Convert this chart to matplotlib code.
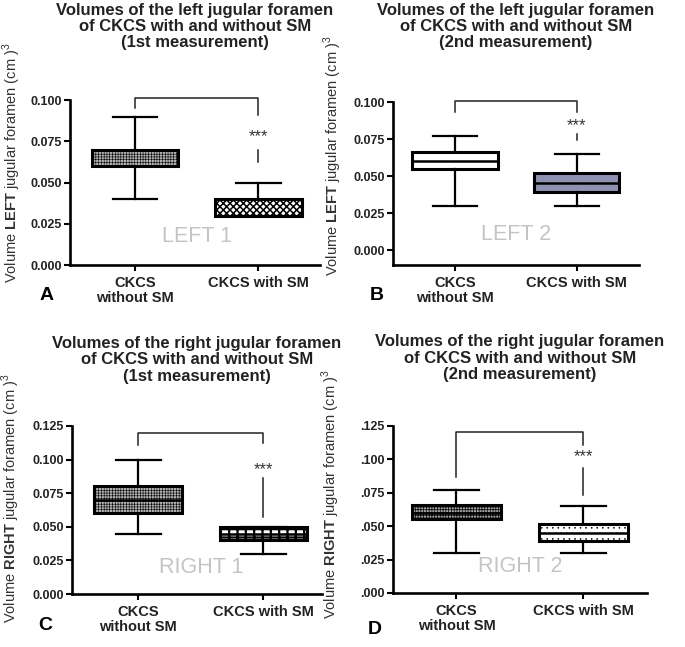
import matplotlib
matplotlib.use("Agg")
import matplotlib.pyplot as plt
from matplotlib.ticker import FuncFormatter

plt.rcParams['font.family'] = ['Liberation Sans', 'DejaVu Sans']
plt.rcParams['mathtext.fontset'] = 'custom'
plt.rcParams['mathtext.rm'] = 'Liberation Sans'
plt.rcParams['mathtext.bf'] = 'Liberation Sans:bold'
plt.rcParams['hatch.linewidth'] = 0.6

# data: (without SM, with SM) per panel
groups = ["CKCS\nwithout SM", "CKCS with SM"]
panels = ["A", "B", "C", "D"]
titles = [
    "Volumes of the left jugular foramen\nof CKCS with and without SM\n(1st measurement)",
    "Volumes of the left jugular foramen\nof CKCS with and without SM\n(2nd measurement)",
    "Volumes of the right jugular foramen\nof CKCS with and without SM\n(1st measurement)",
    "Volumes of the right jugular foramen\nof CKCS with and without SM\n(2nd measurement)",
]
sides = ["LEFT", "LEFT", "RIGHT", "RIGHT"]
tags = ["LEFT 1", "LEFT 2", "RIGHT 1", "RIGHT 2"]

whislo = [[0.040, 0.030], [0.030, 0.030], [0.045, 0.030], [0.030, 0.030]]
q1     = [[0.060, 0.030], [0.055, 0.039], [0.060, 0.040], [0.055, 0.039]]
med    = [[0.060, 0.030], [0.060, 0.045], [0.070, 0.045], [0.060, 0.045]]
q3     = [[0.070, 0.040], [0.066, 0.052], [0.080, 0.050], [0.066, 0.052]]
whishi = [[0.090, 0.050], [0.077, 0.065], [0.100, 0.050], [0.077, 0.065]]

# significance bracket: top, left end, right upper end, stars, lower segment
br_top   = [0.101, 0.1007, 0.120, 0.1208]
br_left  = [0.095, 0.0933, 0.111, 0.087]
br_right = [0.091, 0.0933, 0.112, 0.1108]
br_star  = [0.078, 0.0843, 0.0923, 0.102]
br_seg   = [(0.0697, 0.0626), (0.0787, 0.0742), (0.086, 0.0575), (0.0933, 0.0733)]

yticks = [[0, 0.025, 0.05, 0.075, 0.1], [0, 0.025, 0.05, 0.075, 0.1],
          [0, 0.025, 0.05, 0.075, 0.1, 0.125], [0, 0.025, 0.05, 0.075, 0.1, 0.125]]
ylims = [(0, 0.1), (-0.0101, 0.1), (0, 0.125), (0, 0.125)]
xlims = [(-0.53, 1.50), (-0.508, 1.51), (-0.53, 1.47), (-0.50, 1.50)]

# box looks
faces   = [["#b4b4b4", "white"], ["white", "#8e92b0"], ["#b4b4b4", "white"], ["#a0a0a0", "white"]]
hatches = [["++++++", "xxxxx"], [None, None], ["++++++", "++"], ["++++++", "..."]]
hatch_lw = [[0.4, 1.1], [0.6, 0.6], [0.4, 1.6], [0.5, 0.4]]

# axes rects in figure fractions
rects = [
    [0.1022, 0.5904, 0.365, 0.2550],
    [0.5737, 0.5904, 0.3591, 0.2519],
    [0.1051, 0.0819, 0.365, 0.2597],
    [0.5737, 0.0835, 0.3708, 0.2581],
]
title_top = [0.996, 0.996, 0.481, 0.483]
label_xy = [(-0.19, 0.62), (-0.2, 0.67), (-0.2, 0.57), (-0.2, 0.59)]
letter_xy = [(47, 295), (377, 295), (45, 625), (375, 630)]
tag_y = [0.011, 0.0034, 0.012, 0.012]

fig = plt.figure(figsize=(6.85, 6.47), dpi=100)

for i in range(4):
    ax = fig.add_axes(rects[i])
    stats = []
    for j in range(2):
        stats.append(dict(whislo=whislo[i][j], q1=q1[i][j], med=med[i][j],
                          q3=q3[i][j], whishi=whishi[i][j], fliers=[]))
    bp = ax.bxp(stats, positions=[0, 1], widths=0.7, capwidths=0.36,
                showfliers=False, patch_artist=True,
                boxprops=dict(linewidth=2.2, edgecolor="black"),
                medianprops=dict(color="black", linewidth=1.8),
                whiskerprops=dict(color="black", linewidth=1.6),
                capprops=dict(color="black", linewidth=1.6))
    for j, box in enumerate(bp["boxes"]):
        box.set_facecolor(faces[i][j])
        if hatches[i][j]:
            box.set_hatch(hatches[i][j])
            if hasattr(box, "set_hatch_linewidth"):
                box.set_hatch_linewidth(hatch_lw[i][j])

    # bracket
    kw = dict(color="#222222", lw=1.1, clip_on=False)
    ax.plot([0, 0, 1, 1], [br_left[i], br_top[i], br_top[i], br_right[i]], **kw)
    ax.plot([1, 1], list(br_seg[i]), **kw)
    ax.text(1, br_star[i], "***", ha="center", va="center", fontsize=12,
            color="#333333")

    ax.text(0.5, tag_y[i], tags[i], ha="center", va="bottom", fontsize=15.5,
            color="#c4c4c4")

    ax.set_xlim(*xlims[i])
    ax.set_ylim(*ylims[i])
    ax.set_xticks([0, 1])
    ax.set_xticklabels(groups, fontsize=10.5, fontweight="bold", color="#222222",
                       linespacing=1.05)
    ax.set_yticks(yticks[i])
    if i == 3:
        ax.yaxis.set_major_formatter(FuncFormatter(lambda v, p: ("%.3f" % v)[1:]))
    else:
        ax.yaxis.set_major_formatter(FuncFormatter(lambda v, p: "%.3f" % v))
    for lab in ax.get_yticklabels():
        lab.set_fontweight("bold")
        lab.set_fontsize(9)
        lab.set_color("#222222")
    ax.tick_params(direction="out", length=4, width=1.5, pad=2)
    ax.tick_params(axis="x", pad=4)
    for s in ["top", "right"]:
        ax.spines[s].set_visible(False)
    for s in ["left", "bottom"]:
        ax.spines[s].set_linewidth(1.9)
    if i == 1:
        ax.spines["left"].set_bounds(-0.0101, 0.1)

    ax.set_ylabel("Volume $\\bf{%s}$ jugular foramen (cm )$^{3}$" % sides[i],
                  fontsize=10.5, color="#333333")
    ax.yaxis.set_label_coords(*label_xy[i])

    cx = rects[i][0] + rects[i][2] / 2
    fig.text(cx, title_top[i], titles[i], ha="center", va="top", fontsize=12,
             fontweight="bold", color="#222222", linespacing=1.12)
    fig.text(letter_xy[i][0] / 685, 1 - letter_xy[i][1] / 647, panels[i],
             ha="center", va="center", fontsize=14, fontweight="bold")

fig.savefig("out.png", dpi=100)
